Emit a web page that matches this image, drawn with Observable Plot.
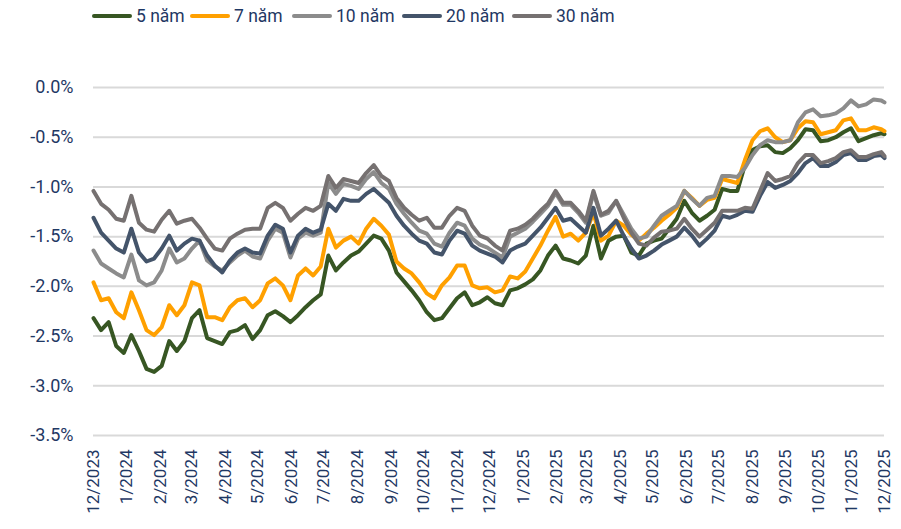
<!DOCTYPE html>
<html><head><meta charset="utf-8">
<script src="https://cdn.jsdelivr.net/npm/d3@7"></script>
<script src="https://cdn.jsdelivr.net/npm/@observablehq/plot@0.6"></script>
<style>
body{margin:0;background:#fff;font-family:Roboto,sans-serif;}
#legend{position:relative;height:36px;width:901px;}
.item{position:absolute;top:0;height:32px;display:flex;align-items:center;color:#1f3864;font-size:17.5px;white-space:nowrap;}
.sw{width:40px;height:4px;border-radius:2px;margin-right:4px;}
#chart svg{display:block;}
</style></head><body>
<div id="legend"></div><div id="chart"></div>
<script>
// Weekly observations from 2023-12-01 plus last point 2025-12-01
const startDate = "2023-12-01";
const weeklyCount = 105;
const lastDate = "2025-12-01";

const seriesNames = ["5 năm", "7 năm", "10 năm", "20 năm", "30 năm"];
const seriesColors = ["#375623", "#ffa000", "#8c8c8c", "#44546a", "#767171"];

const y5 = [
-2.32,-2.44,-2.36,-2.60,-2.67,-2.49,-2.65,-2.83,-2.86,-2.80,
-2.55,-2.65,-2.55,-2.32,-2.24,-2.52,-2.55,-2.58,-2.46,-2.44,
-2.39,-2.53,-2.44,-2.29,-2.25,-2.30,-2.36,-2.29,-2.21,-2.14,
-2.08,-1.69,-1.84,-1.76,-1.69,-1.65,-1.57,-1.49,-1.52,-1.64,
-1.86,-1.95,-2.04,-2.14,-2.26,-2.34,-2.32,-2.22,-2.12,-2.06,
-2.19,-2.16,-2.11,-2.17,-2.19,-2.04,-2.02,-1.98,-1.93,-1.84,
-1.69,-1.59,-1.72,-1.74,-1.77,-1.69,-1.39,-1.72,-1.54,-1.50,
-1.49,-1.66,-1.69,-1.57,-1.54,-1.52,-1.42,-1.32,-1.14,-1.26,
-1.34,-1.29,-1.23,-1.02,-1.04,-1.04,-0.78,-0.63,-0.59,-0.58,
-0.65,-0.66,-0.61,-0.53,-0.42,-0.43,-0.54,-0.53,-0.50,-0.45,
-0.41,-0.54,-0.51,-0.48,-0.46,-0.47];
const y7 = [
-1.96,-2.14,-2.12,-2.26,-2.32,-2.06,-2.24,-2.44,-2.49,-2.41,
-2.19,-2.29,-2.19,-1.96,-1.99,-2.31,-2.31,-2.34,-2.21,-2.14,
-2.12,-2.21,-2.14,-1.97,-1.92,-1.99,-2.14,-1.89,-1.82,-1.89,
-1.80,-1.42,-1.61,-1.54,-1.50,-1.57,-1.42,-1.32,-1.39,-1.48,
-1.75,-1.82,-1.87,-1.96,-2.07,-2.12,-1.99,-1.91,-1.79,-1.79,
-1.99,-2.02,-2.01,-2.06,-2.04,-1.90,-1.92,-1.85,-1.72,-1.59,
-1.44,-1.30,-1.50,-1.47,-1.54,-1.46,-1.26,-1.54,-1.49,-1.34,
-1.39,-1.48,-1.54,-1.47,-1.41,-1.34,-1.28,-1.21,-1.04,-1.11,
-1.19,-1.13,-1.11,-0.92,-0.94,-0.96,-0.73,-0.53,-0.44,-0.41,
-0.50,-0.55,-0.53,-0.41,-0.34,-0.35,-0.47,-0.45,-0.43,-0.33,
-0.31,-0.43,-0.43,-0.40,-0.42,-0.44];
const y10 = [
-1.64,-1.77,-1.82,-1.87,-1.91,-1.68,-1.94,-1.99,-1.96,-1.84,
-1.62,-1.76,-1.72,-1.62,-1.54,-1.74,-1.80,-1.84,-1.76,-1.69,
-1.64,-1.70,-1.72,-1.54,-1.42,-1.46,-1.71,-1.52,-1.46,-1.49,
-1.46,-0.96,-1.07,-0.97,-0.99,-1.02,-0.92,-0.85,-0.96,-1.02,
-1.17,-1.27,-1.36,-1.44,-1.47,-1.57,-1.60,-1.46,-1.36,-1.39,
-1.52,-1.58,-1.61,-1.66,-1.71,-1.50,-1.46,-1.42,-1.35,-1.27,
-1.19,-1.06,-1.18,-1.18,-1.26,-1.36,-1.06,-1.29,-1.26,-1.14,
-1.28,-1.42,-1.52,-1.50,-1.39,-1.29,-1.24,-1.19,-1.04,-1.12,
-1.19,-1.11,-1.09,-0.89,-0.89,-0.90,-0.81,-0.68,-0.58,-0.53,
-0.55,-0.55,-0.53,-0.35,-0.25,-0.22,-0.29,-0.28,-0.26,-0.21,
-0.13,-0.19,-0.17,-0.12,-0.13,-0.15];
const y20 = [
-1.31,-1.46,-1.54,-1.62,-1.66,-1.42,-1.66,-1.75,-1.72,-1.62,
-1.49,-1.64,-1.57,-1.52,-1.54,-1.69,-1.79,-1.86,-1.74,-1.66,
-1.62,-1.66,-1.67,-1.49,-1.38,-1.42,-1.66,-1.49,-1.42,-1.46,
-1.43,-1.17,-1.24,-1.12,-1.14,-1.14,-1.07,-1.02,-1.09,-1.16,
-1.29,-1.39,-1.47,-1.54,-1.57,-1.66,-1.68,-1.54,-1.44,-1.47,
-1.59,-1.64,-1.67,-1.70,-1.76,-1.64,-1.60,-1.57,-1.49,-1.41,
-1.31,-1.21,-1.34,-1.32,-1.39,-1.46,-1.21,-1.49,-1.42,-1.34,
-1.49,-1.62,-1.72,-1.69,-1.64,-1.58,-1.54,-1.50,-1.41,-1.49,
-1.59,-1.52,-1.44,-1.29,-1.31,-1.28,-1.24,-1.25,-1.09,-0.95,
-1.01,-0.98,-0.94,-0.86,-0.76,-0.71,-0.79,-0.79,-0.75,-0.68,
-0.66,-0.73,-0.73,-0.69,-0.68,-0.71];
const y30 = [
-1.04,-1.17,-1.23,-1.32,-1.34,-1.09,-1.36,-1.43,-1.45,-1.33,
-1.24,-1.37,-1.34,-1.32,-1.41,-1.52,-1.62,-1.64,-1.52,-1.47,
-1.43,-1.42,-1.42,-1.21,-1.16,-1.21,-1.34,-1.27,-1.21,-1.24,
-1.19,-0.89,-1.01,-0.92,-0.94,-0.96,-0.86,-0.78,-0.89,-0.94,
-1.11,-1.21,-1.28,-1.34,-1.31,-1.41,-1.41,-1.29,-1.21,-1.24,
-1.39,-1.49,-1.52,-1.59,-1.64,-1.44,-1.42,-1.38,-1.32,-1.24,
-1.17,-1.04,-1.16,-1.16,-1.24,-1.34,-1.04,-1.28,-1.24,-1.14,
-1.31,-1.46,-1.57,-1.59,-1.51,-1.45,-1.44,-1.42,-1.32,-1.42,
-1.50,-1.43,-1.36,-1.24,-1.24,-1.24,-1.21,-1.22,-1.04,-0.86,
-0.94,-0.92,-0.89,-0.76,-0.68,-0.68,-0.76,-0.74,-0.71,-0.65,
-0.63,-0.70,-0.70,-0.67,-0.65,-0.69];

const yTicks = [0, -0.5, -1.0, -1.5, -2.0, -2.5, -3.0, -3.5];

const dates = d3.range(weeklyCount)
  .map(i => d3.utcDay.offset(new Date(startDate), 7 * i))
  .concat([new Date(lastDate)]);
const seriesValues = [y5, y7, y10, y20, y30];
const rows = seriesValues.flatMap((vals, s) =>
  vals.map((v, i) => ({date: dates[i], value: v, name: seriesNames[s]})));

const monthTicks = d3.utcMonth.range(new Date("2023-12-01"), new Date("2025-12-02"));

// Legend
const legend = document.getElementById("legend");
const legendX = [92, 190, 292, 402, 512];
seriesNames.forEach((n, i) => {
  const it = document.createElement("div");
  it.className = "item";
  it.style.left = legendX[i] + "px";
  it.innerHTML = `<span class="sw" style="background:${seriesColors[i]}"></span><span>${n}</span>`;
  legend.appendChild(it);
});

const chart = Plot.plot({
  width: 901,
  height: 493,
  marginLeft: 93,
  marginRight: 17,
  marginTop: 51,
  marginBottom: 94,
  style: {fontFamily: "Roboto, sans-serif", background: "#fff", color: "#1f3864"},
  x: {type: "utc", domain: [new Date("2023-12-01"), new Date("2025-12-01")]},
  y: {domain: [-3.5, 0]},
  color: {domain: seriesNames, range: seriesColors},
  marks: [
    Plot.gridY(yTicks, {stroke: "#d9d9d9", strokeWidth: 2, strokeOpacity: 1}),
    Plot.axisY(yTicks, {tickSize: 0, tickPadding: 20, tickFormat: d => d.toFixed(1) + "%", fontSize: 18, label: null, fill: "#1f3864"}),
    Plot.axisX(monthTicks, {tickSize: 0, tickRotate: -90, tickPadding: 14, tickFormat: d3.utcFormat("%-m/%Y"), fontSize: 17, label: null, fill: "#1f3864"}),
    Plot.lineY(rows, {x: "date", y: "value", z: "name", stroke: "name", strokeWidth: 4, strokeLinejoin: "round"})
  ]
});
document.getElementById("chart").appendChild(chart);
</script>
</body></html>
